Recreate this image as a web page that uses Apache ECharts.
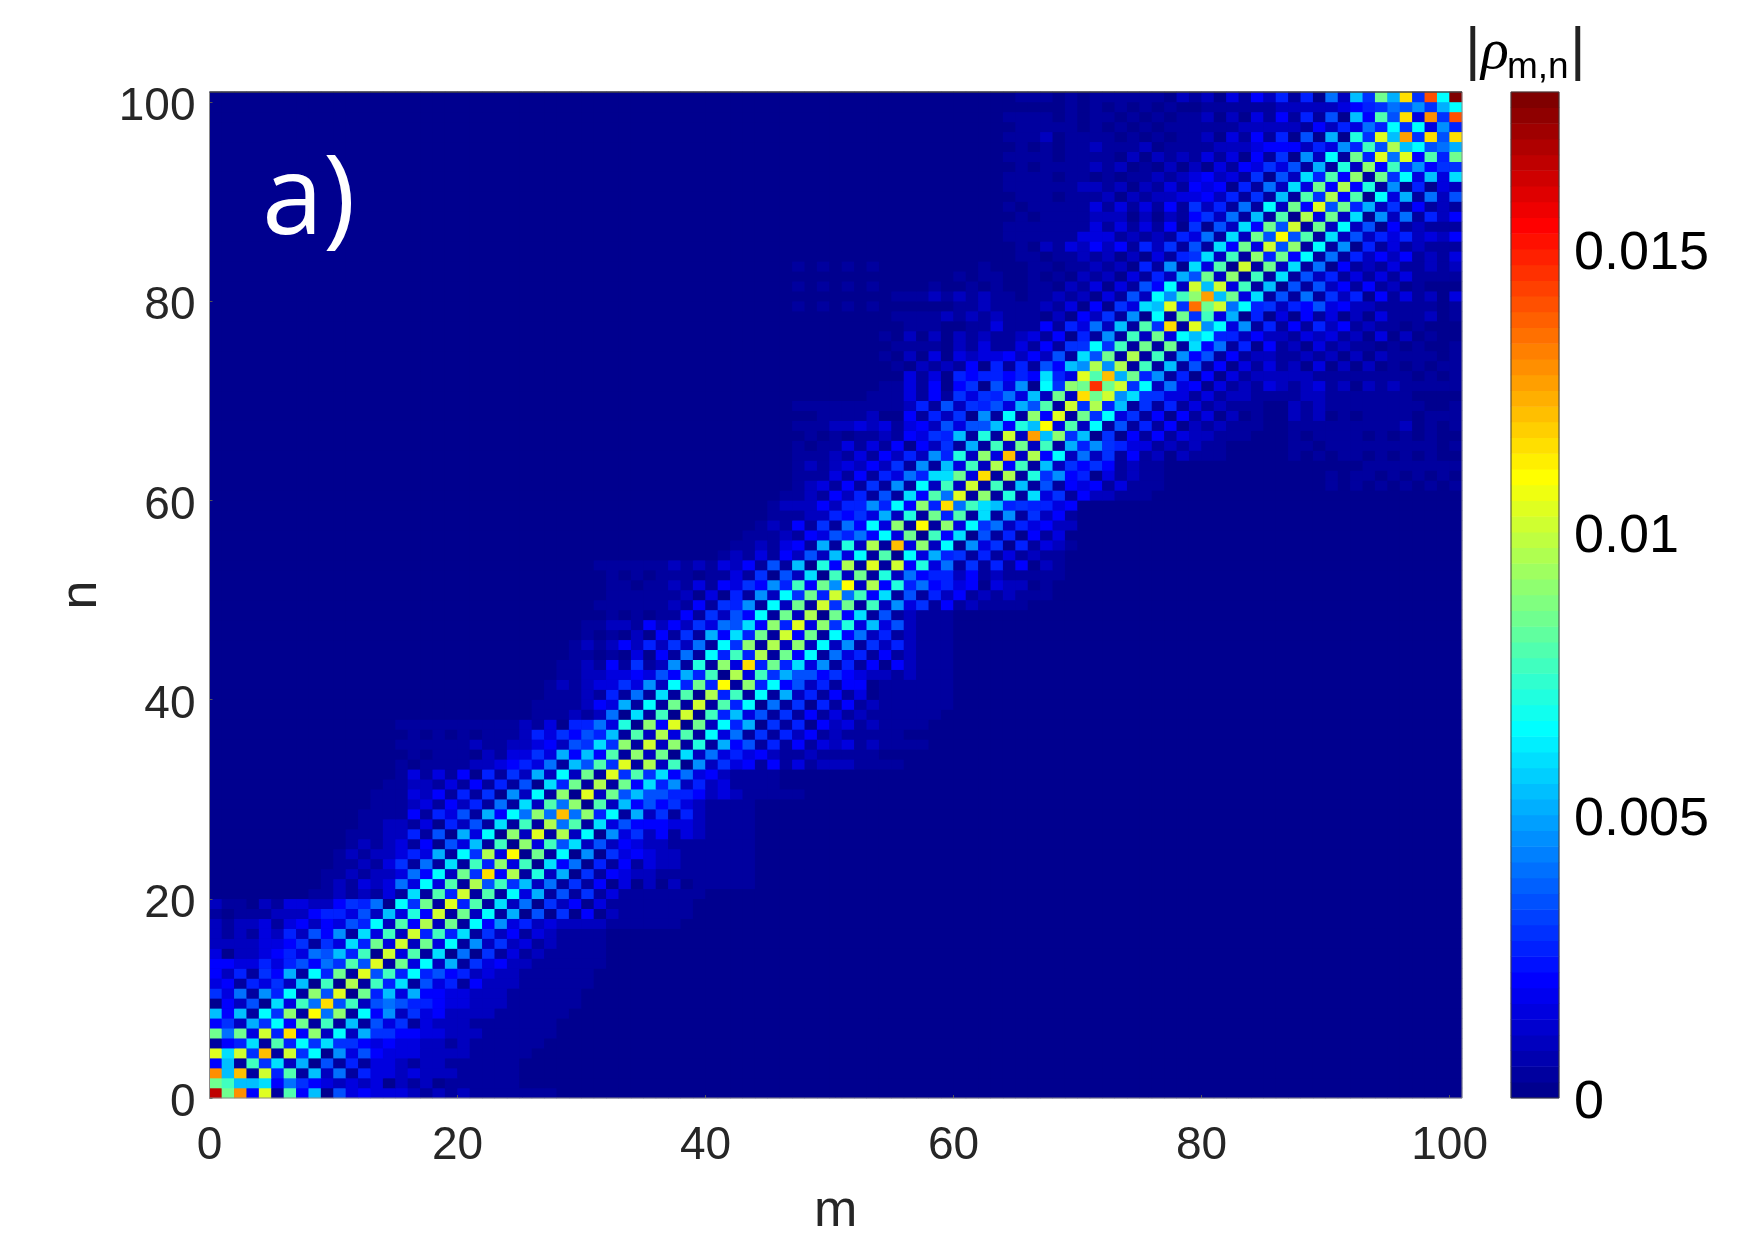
<!DOCTYPE html>
<html>
<head>
<meta charset="utf-8">
<title>rho m,n</title>
<script src="https://cdn.jsdelivr.net/npm/echarts@6/dist/echarts.min.js"></script>
<style>
html, body { margin: 0; padding: 0; background: #fff; }
#chart { width: 1753px; height: 1239px; }
</style>
</head>
<body>
<div id="chart"></div>
<script>
// each row is n = 0..100, "start:levels" with one base-36 digit per cell
// one level = levelStep, cells not listed are level 0, spaces are only there for reading
const levelStep = 0.0005;
const maxValue = 0.01776;
const xTicks = [0, 20, 40, 60, 80, 100];
const yTicks = [0, 20, 40, 60, 80, 100];
const colorbarTicks = [0, 0.005, 0.01, 0.015];
const rowCells = [
	"0:xhq4l1g4b073433321212111 1111",
	"0:hfbbc486432323021201 11111",
	"0:qbo1k5g1b28153323222 11111",
	"0:4b1f6c2a071513321221 11111",
	"0:lck6o1k6d09374333222 211111",
	"0:145c1g5d6c66434332212 111111",
	"0:h8h3k5n4i2d2a664433222 111111",
	"0:462a6d4h1f1b1736132221 111111",
	"0:b4b1d6i1m8i1d4926342222 111111",
	"0:04270c3f8n7f27875543322 2111111",
	"0:638195d1i7l0h5b3a443322 2111111",
	"0:3415362b0f0j1f5c17351422 2111111",
	"0:425164a1d5h1l7f5d5745232 2111111",
	"0:44335357486g7l1h3d2a163422 111111",
	"0:3022345387b5f0k3g1c0806131 211111",
	"0:22223346163c5h3k2h3d1926231 21111",
	"0:212132527491c3f2k5f5c162413 21111",
	"0:2122313424375d2g4j2h1d493523222211 1111",
	"0:10111222455372b3e4k1h2d1a0706040211 1111",
	"0:211021332246580d6h1l5g1c28062403111 1111",
	"8:11212131c1g5k1g1d3a17161311 11111",
	"9:12132383d3g1j7f6b2816140302020 11111",
	"9:112122384d2h6n4j1e2a0614322111 11111",
	"10:112136181c1f5i3f0c48051413221 11111",
	"10:12122353a1d6j3m0h1d0906343221 11111",
	"11:1212314073b1f0i3f7c272432211 11111",
	"11:111225170a3d0i2l1j2d09362413 21111",
	"12:11221305271c1f1j8g1c3744433 21111",
	"12:1111415371a4d8i8o8i5d1a2615 21111",
	"13:111231425181c2g8i0g2b47463 21111",
	"13:1113241516092d1i0l2h7b7755423211 111",
	"14:1122131415170c5h1j1h4c5925231 111",
	"15:131314051 62a2d2h1l6g6c483421 111",
	"15:1011112234 5381b7 g6l1j2f09263414131222 11 11",
	"15:01011102133 63a4b4 g1i2h0c28353421 12111 11",
	"15:1111112112234276 c6i1k2i1e1a47151413231211 11",
	"15:0101010111253647 5b1g2j3g1d38161524121 11 11",
	"15:1111111111213055 83e0i4l0h2d5a061504231211 11",
	"26:11121 280c1f0k0f5b3716141312 11 1111",
	"26:11112 43a1d1h1k1g5d0816051412 11 1111",
	"27:1112 15181c1g0j5f1d1a25141 3011 1111",
	"27:1212 33639 2d5h5m1i5d47251 44011 1111",
	"28:112 233437 4a5f0j3f6a774643221 2111",
	"28:112 1416129 1e1i3n5h5c391514 04 2111",
	"29:11 0103041 81d5f5j1h4d18351 41 2111",
	"29:12 1242526 281d6i1j2i2d2916 25 2111",
	"30:1 0102041 61a4c5h1k4h1d4825 1 2111",
	"30:1 1221424 26387c4i5l3i6e3b37 2111",
	"31:0101011 4162 74d1h2j0h4c171 2111",
	"31:1111112 1416591d2h1k6h1f2 9 3614121 111",
	"31:0111111 20305192d6h5k8f4c17 15241 21 2111",
	"31:0110112 13143 6495f4h9m2j4e58 4 534 03220 1",
	"31:010 101110113 1 6072c0f2h1e28 4552 4121 1111",
	"31:11111 12121324 171b0e4j1l1k4e 38161514 021",
	"41:121314 27 2b3d1g0d3a56 15131 21 10",
	"42:11213 41a1e2j1o3i2d0 93605 1321",
	"43:1112 14375 84d3h0f4c0 71504 130",
	"44:121 41618 4d3i1m1i3d 68253 422",
	"45:11 12254 63a2e1h5g1c 19162 41",
	"45:12 22425 59 5d4i5n8fcb 56553 4",
	"46:1 12142 5171c4g8l1i1e 1c3614 2 2111",
	"47:12314 16191d2f2k1f1b 1714 34 13111 ;88:00101010101010",
	"47:11131 41538 5cch3n1j1e 6945 0 31211 ;88:00101101010101",
	"47:12123 242 6191b3f2j4f 1b2646 41211 ;88:00000111111111",
	"47:11121 314 2529 5e2i3o2j 4d282 61412021 11 ;87:10101101010100",
	"47:10113 1314 0426 1a1f2h2f 1a59 6533 1212 11 ;87:11011111111101",
	"47:01010 1121 4365 b1e1k2p bi6b0 6041413 22111 ;87:10111101010100",
	"47:11122 3231 3427 377b4e bm3g2d 1715140 21211 1 ;87:11111111120101",
	"47:00111 1200 4152 6091d1i 4l1h6 d361404 130 201 ;87:21201011110111",
	"47:11111 1111 2517 2657 3a7g 1k6j 5b1615 13121 1 1 ;87:21211111111001",
	"53:11131416365 83b2h2nhk9c6633131221111 2211111110000",
	"54:1131404607 390d6ihthk6d283403121321 2312021211111",
	"56:31305455 454c53lgoah5915040312222 2111111110101",
	"55:102121405 15174b9j9j1f1b1714031312 0302020101011",
	"54:1020303233 424271c7h1j1f19471412211 2120202111101",
	"55:111102131 1314166d6f1h1h1c48150412 0312110101001",
	"54:1020202121 1231405191f2h3dbd5524221 3231203020100",
	"55:011100113 111415382b1g6n1l9d391514 1524121101000",
	"55:111121212 111020426190d1h6f3a05030 4130203111201",
	"47:1010101000000 1121 11121304063cbl6rhk8d5625 4734221111101",
	"55:111212121 1011212031 72d9fi pbh3c171 8162504131203",
	"47:10101010000100101 0011021303174d2k bk3f1b07 1724141201000",
	"60:1011 0010102120315 2a7h2i0f1c1 7251313131111",
	"47:10101010000000010 0011011212051 90c3g0k1h2c 1804121311212",
	"64:0110112120203156c2f1i5h4 d181524241213",
	"64:01021324241526171 c4h3k7i1d190513121 11",
	"64:1111113331212153 81c2h7m7g1c2725352324",
	"64:1111111313131406 072c4h7k1h2d270412111",
	"64:0101111222020214 6281b1g0j3h2c09281524",
	"64:1011111313131416 25181d2h4l7h5a2614121",
	"64:0111011120212233 425161b1g6j4g0d3a1827",
	"64:1111112212021314 340518 2c3h4j4e1905032",
	"64:1111011010112123 4231607 2c5g4i1h6d3b3c",
	"64:0101111212010202 0314363 71a1e2i4f69466",
	"64:1111011110202121 3130416 092d1h5l8l4g5h",
	"64:0101011211120111 12223444 25395f7jbd78a",
	"64:1112011110101011 2031415 070a0e6lbp6n7n",
	"64:0111110101010111 11122222 1425385d6d395",
	"64:1111010110101011 2020314 15170b4g7n3q6s",
	"64:0000010101010100 1111112 22223456 8796ad",
	"64:0111010111111021 2031425 15082b6han6sdz",
];

// matlab jet(64)
function jetColor(i) {
	const t = (i + 1) / 64;
	const c = (x) => Math.round(255 * Math.max(0, Math.min(1, 1.5 - Math.abs(4 * t - x))));
	return "rgb(" + c(3) + "," + c(2) + "," + c(1) + ")";
}

const cellData = [];
for (let n = 0; n <= 100; n++) {
	const row = new Array(101).fill(0);
	rowCells[n].split(";").forEach((part) => {
		const [start, text] = part.split(":");
		const levels = text.replace(/ /g, "");
		for (let i = 0; i < levels.length && +start + i <= 100; i++) {
			row[+start + i] = parseInt(levels[i], 36) * levelStep;
		}
	});
	row.forEach((v, m) => cellData.push([m, n, v]));
}

const pieces = [];
const colorbarData = [];
const colorbarLevels = [];
for (let i = 0; i < 64; i++) {
	pieces.push({ gte: (maxValue * i) / 64, lt: (maxValue * (i + 1)) / 64, color: jetColor(i) });
	colorbarLevels.push(i);
	colorbarData.push([0, i, (maxValue * (i + 0.5)) / 64]);
}
const cellIndex = [];
for (let i = 0; i <= 100; i++) cellIndex.push(i);

const chart = echarts.init(document.getElementById("chart"));
const axisColor = "#262626";
const sans = "Liberation Sans";

chart.setOption({
	animation: false,
	backgroundColor: "#fff",
	grid: [
		{ left: 209.5, top: 92, width: 1252.5, height: 1006, show: true, backgroundColor: "#00008f", borderWidth: 0, outerBoundsMode: "none" },
		{ left: 1511, top: 92, width: 48, height: 1006, outerBoundsMode: "none" },
	],
	visualMap: {
		show: false,
		type: "piecewise",
		seriesIndex: [0, 1],
		pieces: pieces,
	},
	xAxis: [
		{ type: "category", gridIndex: 0, data: cellIndex, show: false },
		{
			type: "value",
			gridIndex: 0,
			min: 0,
			max: 101,
			position: "bottom",
			name: "m",
			nameLocation: "middle",
			nameGap: 88,
			nameTextStyle: { color: axisColor, fontSize: 52, fontFamily: sans },
			splitLine: { show: false },
			axisLine: { show: false },
			axisTick: { customValues: xTicks, inside: true, length: 3, lineStyle: { color: "#555" } },
			axisLabel: { customValues: xTicks, color: axisColor, fontSize: 46, fontFamily: sans, margin: 25 },
			z: 5,
		},
		{ type: "category", gridIndex: 1, data: ["bar"], show: false },
	],
	yAxis: [
		{ type: "category", gridIndex: 0, data: cellIndex, show: false },
		{
			type: "value",
			gridIndex: 0,
			min: 0,
			max: 101,
			position: "left",
			name: "n",
			nameLocation: "middle",
			nameGap: 92,
			nameRotate: 90,
			nameTextStyle: { color: axisColor, fontSize: 52, fontFamily: sans },
			splitLine: { show: false },
			axisLine: { show: false },
			axisTick: { customValues: yTicks, inside: true, length: 3, lineStyle: { color: "#555" } },
			axisLabel: { customValues: yTicks, color: axisColor, fontSize: 46, fontFamily: sans, margin: 14, verticalAlign: "top", lineHeight: 11 },
			z: 5,
		},
		{ type: "category", gridIndex: 1, data: colorbarLevels, show: false },
		{
			type: "value",
			gridIndex: 1,
			min: 0,
			max: maxValue,
			position: "right",
			splitLine: { show: false },
			axisLine: { show: false },
			axisTick: { customValues: colorbarTicks, inside: true, length: 12, lineStyle: { color: "#000", width: 1 } },
			axisLabel: { customValues: colorbarTicks, color: "#000", fontSize: 54, fontFamily: sans, margin: 15, verticalAlign: "top", lineHeight: 11 },
			z: 5,
		},
	],
	series: [
		{
			type: "heatmap",
			xAxisIndex: 0,
			yAxisIndex: 0,
			data: cellData,
			progressive: 0,
			silent: true,
			emphasis: { disabled: true },
		},
		{
			type: "heatmap",
			xAxisIndex: 2,
			yAxisIndex: 2,
			data: colorbarData,
			progressive: 0,
			silent: true,
			emphasis: { disabled: true },
		},
	],
	graphic: [
		{ type: "rect", z: 50, shape: { x: 209.5, y: 92, width: 1252.5, height: 1006 }, style: { fill: "none", stroke: "#8a8a8a", lineWidth: 1 } },
		{ type: "line", z: 51, shape: { x1: 209.5, y1: 92, x2: 1462, y2: 92 }, style: { stroke: "#222", lineWidth: 1 } },
		{ type: "rect", z: 50, shape: { x: 1511, y: 92, width: 48, height: 1006 }, style: { fill: "none", stroke: "#404040", lineWidth: 1 } },
		{ type: "text", z: 50, left: 262, top: 148, style: { text: "a)", fill: "#fff", fontSize: 110, fontFamily: "Open Sans" } },
		{ type: "text", z: 50, left: 1465, top: 22, style: { text: "|", fill: "#222", fontSize: 60, fontFamily: sans } },
		{ type: "text", z: 50, left: 1481, top: 24, style: { text: "ρ", fill: "#000", fontSize: 58, fontStyle: "italic", fontFamily: "Liberation Serif" } },
		{ type: "text", z: 50, left: 1507, top: 49, style: { text: "m,n", fill: "#000", fontSize: 37, fontFamily: sans } },
		{ type: "text", z: 50, left: 1570, top: 22, style: { text: "|", fill: "#222", fontSize: 60, fontFamily: sans } },
	],
});
</script>
</body>
</html>
